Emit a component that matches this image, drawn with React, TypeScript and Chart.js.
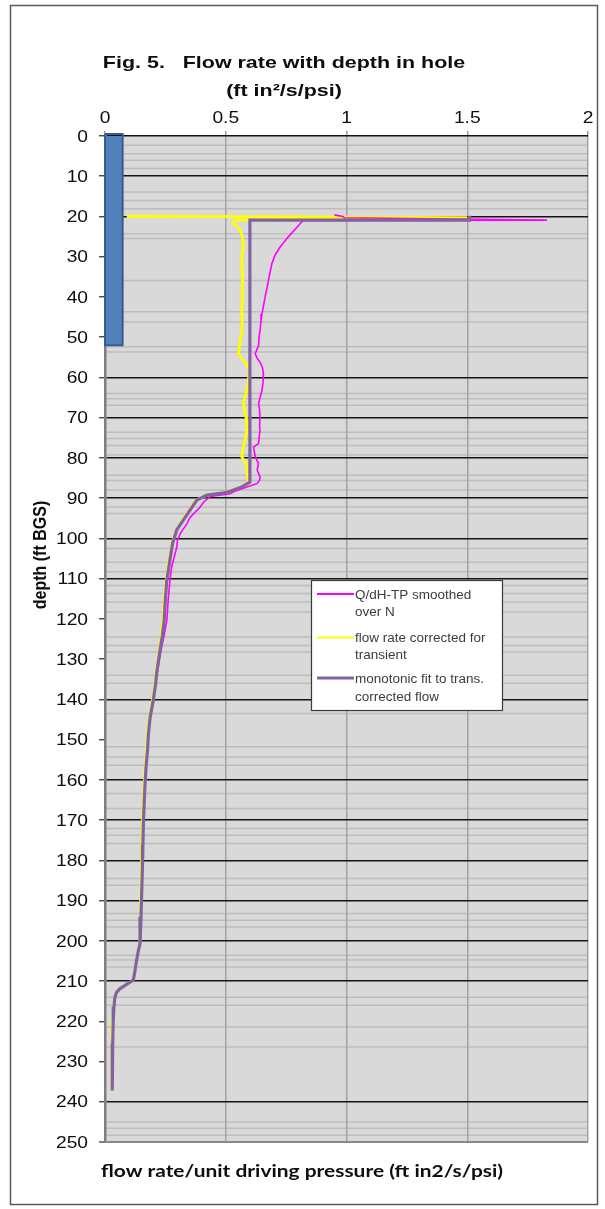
import { useEffect, useRef } from 'react';
import { Chart, registerables } from 'chart.js';

Chart.register(...registerables);

// ---------- data ----------
const flowTicks = [0, 0.5, 1, 1.5, 2];
const flowTickLabels = ['0', '0.5', '1', '1.5', '2'];
const depthTicks = [0, 10, 20, 30, 40, 50, 60, 70, 80, 90, 100, 110, 120, 130, 140, 150, 160, 170, 180, 190, 200, 210, 220, 230, 240, 250];
const depthTickLabels = ['0', '10', '20', '30', '40', '50', '60', '70', '80', '90', '100', '110', '120', '130', '140', '150', '160', '170', '180', '190', '200', '210', '220', '230', '240', '250'];

// depths of the dark horizontal grid lines and of the light ones
const darkGridDepths = [0, 10, 20, 60, 70, 80, 90, 100, 110, 140, 160, 170, 180, 190, 200, 210, 240];
const lightGridDepths = [2.3, 4.4, 6.0, 8.1, 13.9, 16.0, 18.1, 24.3, 25.5, 35.9, 43.7, 46.2, 52.4, 53.7, 64.0, 65.3, 66.9, 73.6, 75.2, 76.9, 79.3, 84.3, 85.6, 88.0, 92.2, 93.8, 102.5, 105.9, 108.3, 111.7, 113.7, 115.8, 118.3, 124.5, 126.6, 128.2, 134.0, 136.0, 143.5, 151.8, 154.3, 156.4, 163.4, 167.1, 172.1, 173.8, 175.8, 184.5, 186.2, 193.2, 194.9, 196.6, 203.6, 204.8, 206.5, 214.0, 216.0, 221.4, 226.4, 245.0, 246.6, 248.3];

// casing (blue bar): flow extent and depth extent
const casingFlow = [0, 0.073, 0.073, 0, 0];
const casingDepth = [-0.5, -0.5, 52, 52, -0.5];

// Q/dH-TP smoothed over N
const magentaFlow = [0.95, 0.985, 0.99, 1.83, 0.82, 0.79, 0.76, 0.725, 0.705, 0.691, 0.683, 0.677, 0.67, 0.663, 0.657, 0.65, 0.646, 0.642, 0.638, 0.636, 0.622, 0.63, 0.642, 0.652, 0.656, 0.655, 0.65, 0.642, 0.636, 0.64, 0.642, 0.64, 0.642, 0.638, 0.636, 0.615, 0.622, 0.636, 0.63, 0.642, 0.64, 0.629, 0.587, 0.532, 0.518, 0.435, 0.408, 0.39, 0.366, 0.35, 0.339, 0.32, 0.311, 0.3, 0.297, 0.285, 0.276, 0.269, 0.262, 0.256, 0.245, 0.235, 0.226, 0.216];
const magentaDepth = [19.6, 20.0, 20.3, 20.9, 21.0, 23, 25, 27.6, 29.5, 31.7, 34, 35.9, 38, 40, 42, 44.2, 46, 48.3, 50, 52, 54.1, 55.2, 56.2, 57.5, 59, 61, 63.2, 65, 66.5, 68, 70, 72, 73.1, 75, 76.4, 77.3, 79.7, 81.4, 83, 84.7, 85.6, 86.4, 87.2, 88.4, 88.9, 89.6, 91, 92.5, 93.9, 95, 96.4, 98, 98.9, 100.5, 102.2, 105, 107.1, 110.4, 115, 120.3, 124, 126.9, 130, 133.5];

// flow rate corrected for transient
const yellowFlow = [0.09, 0.58, 1.5, 0.54, 0.53, 0.545, 0.56, 0.568, 0.573, 0.566, 0.566, 0.57, 0.568, 0.57, 0.566, 0.568, 0.566, 0.557, 0.553, 0.565, 0.58, 0.598, 0.596, 0.594, 0.585, 0.573, 0.578, 0.584, 0.587, 0.58, 0.573, 0.566, 0.584, 0.59, 0.594, 0.565, 0.515, 0.47, 0.41, 0.375, 0.348, 0.32, 0.295, 0.278, 0.266, 0.253, 0.246, 0.24, 0.234, 0.226, 0.219, 0.211, 0.207, 0.197, 0.184, 0.176, 0.172, 0.166, 0.162, 0.158, 0.155, 0.153, 0.151, 0.149, 0.147, 0.144, 0.137, 0.13, 0.123, 0.116, 0.098, 0.078, 0.058, 0.047, 0.04, 0.035, 0.033, 0.03, 0.029, 0.028];
const yellowDepth = [20.0, 20.05, 20.3, 20.9, 21.6, 22.3, 23.4, 25, 27.6, 29.5, 31.7, 34, 37, 40, 43, 46, 48.3, 52, 54.1, 55.2, 56.2, 58.3, 60, 61.6, 63.5, 66.5, 68, 69.9, 73.1, 75.5, 77.3, 79.7, 81.4, 84.7, 86, 87.2, 88.2, 89.0, 89.5, 90.6, 93, 95.5, 98, 101, 105, 110.5, 115, 120, 124, 127, 130, 133.5, 136, 140, 144.5, 148.5, 153, 157, 161, 166, 171, 176, 182, 188, 194, 200.5, 202.5, 205, 207.5, 209.8, 210.5, 211.3, 212, 212.8, 214, 216.5, 220, 225.5, 231, 237];

// monotonic fit to trans. corrected flow
const purpleFlow = [1.51, 1.51, 0.60, 0.60, 0.566, 0.52, 0.49, 0.42, 0.38, 0.352, 0.325, 0.297, 0.28, 0.269, 0.256, 0.25, 0.245, 0.238, 0.23, 0.222, 0.214, 0.21, 0.2, 0.187, 0.18, 0.176, 0.17, 0.166, 0.162, 0.159, 0.157, 0.155, 0.152, 0.149, 0.145, 0.138, 0.131, 0.124, 0.117, 0.1, 0.08, 0.06, 0.048, 0.041, 0.037, 0.034, 0.032, 0.031, 0.029];
const purpleDepth = [19.8, 20.9, 20.9, 86, 87.2, 88.2, 88.7, 89.3, 90.5, 93, 95.4, 97.9, 101.2, 105.3, 110.4, 115, 120.3, 124, 126.9, 130, 133.5, 136, 140.2, 144.4, 148.5, 152.7, 156.8, 160.9, 166, 170.9, 176, 181.7, 188, 194.1, 200.7, 202.5, 204.8, 207.5, 209.8, 210.4, 211.2, 212, 212.8, 214, 216.4, 220, 225.5, 231, 237.2];

const legendItems = [
  { lines: ['Q/dH-TP smoothed', 'over N'], color: '#FF00FF', width: 2 },
  { lines: ['flow rate corrected for', 'transient'], color: '#FFFF00', width: 2 },
  { lines: ['monotonic fit to trans.', 'corrected flow'], color: '#8064A2', width: 3 },
];

const toPoints = (xs: number[], ys: number[]) => xs.map((v, i) => ({ x: v, y: ys[i] }));

function stretchText(ctx: CanvasRenderingContext2D, text: string, x: number, y: number, align: CanvasTextAlign, sx: number) {
  ctx.save();
  ctx.translate(x, y);
  ctx.scale(sx, 1);
  ctx.textAlign = align;
  ctx.fillText(text, 0, 0);
  ctx.restore();
}

const decorPlugin = {
  id: 'decor',
  beforeDraw(chart: any) {
    const { ctx, chartArea: a } = chart;
    const y = chart.scales.y;
    ctx.save();
    ctx.fillStyle = '#ffffff';
    ctx.fillRect(0, 0, chart.width, chart.height);
    ctx.strokeStyle = '#5c5c5c';
    ctx.lineWidth = 1.5;
    ctx.strokeRect(10.5, 5.5, 587, 1199);
    ctx.fillStyle = '#D9D9D9';
    ctx.fillRect(a.left, a.top, a.right - a.left, a.bottom - a.top);
    ctx.strokeStyle = '#BDBDBD';
    ctx.lineWidth = 1.5;
    for (const d of lightGridDepths) {
      const py = y.getPixelForValue(d);
      ctx.beginPath();
      ctx.moveTo(a.left, py);
      ctx.lineTo(a.right, py);
      ctx.stroke();
    }
    ctx.restore();
  },
  afterDraw(chart: any) {
    const { ctx } = chart;
    const x = chart.scales.x;
    const y = chart.scales.y;
    ctx.save();
    // tick labels
    ctx.fillStyle = '#0d0d0d';
    ctx.textBaseline = 'alphabetic';
    ctx.font = '16px "Liberation Sans", Arial, sans-serif';
    flowTicks.forEach((v, i) => stretchText(ctx, flowTickLabels[i], x.getPixelForValue(v), 123, 'center', 1.2));
    depthTicks.forEach((d, i) => stretchText(ctx, depthTickLabels[i], 88, y.getPixelForValue(d) + 5.7, 'right', 1.2));

    // title
    ctx.fillStyle = '#0d0d0d';
    ctx.font = 'bold 16.5px "Liberation Sans", Arial, sans-serif';
    stretchText(ctx, 'Fig. 5.   Flow rate with depth in hole', 284, 68, 'center', 1.3);
    stretchText(ctx, '(ft in²/s/psi)', 284, 96, 'center', 1.3);

    // y title
    ctx.save();
    ctx.translate(46, 555);
    ctx.rotate(-Math.PI / 2);
    ctx.scale(1, 1.2);
    ctx.font = 'bold 16px "Liberation Sans", Arial, sans-serif';
    ctx.textAlign = 'center';
    ctx.fillText('depth (ft BGS)', 0, 0);
    ctx.restore();

    // x title
    ctx.font = 'bold 17px Lato, "Liberation Sans", sans-serif';
    const xt = 'flow rate/unit driving pressure (ft in2/s/psi)';
    const w = ctx.measureText(xt).width;
    stretchText(ctx, xt, 101, 1177, 'left', 402 / w);

    // legend
    const bx = 311, by = 580, bw = 191, bh = 130;
    ctx.fillStyle = '#ffffff';
    ctx.fillRect(bx, by, bw, bh);
    ctx.strokeStyle = '#3a3a3a';
    ctx.lineWidth = 1.2;
    ctx.strokeRect(bx + 0.5, by + 0.5, bw, bh);
    const rows = [594, 637.5, 678];
    const gaps = [17, 16.5, 18];
    ctx.font = '12.5px "Liberation Sans", Arial, sans-serif';
    legendItems.forEach((it, i) => {
      ctx.strokeStyle = it.color;
      ctx.lineWidth = it.width;
      ctx.beginPath();
      ctx.moveTo(317, rows[i]);
      ctx.lineTo(354, rows[i]);
      ctx.stroke();
      ctx.fillStyle = '#3c3c3c';
      it.lines.forEach((t, j) => stretchText(ctx, t, 355, rows[i] + 4.5 + j * gaps[i], 'left', 1.08));
    });
    ctx.restore();
  },
};

export default function App() {
  const ref = useRef<HTMLCanvasElement>(null);
  useEffect(() => {
    if (!ref.current) return;
    const chart = new Chart(ref.current, {
      type: 'scatter',
      data: {
        datasets: [
          {
            label: 'monotonic fit to trans. corrected flow',
            data: toPoints(purpleFlow, purpleDepth),
            showLine: true,
            borderColor: '#8064A2',
            backgroundColor: '#8064A2',
            borderWidth: 3.2,
            pointRadius: 0,
            tension: 0,
            order: 0,
          },
          {
            label: 'Q/dH-TP smoothed over N',
            data: toPoints(magentaFlow, magentaDepth),
            showLine: true,
            borderColor: '#FF00FF',
            backgroundColor: '#FF00FF',
            borderWidth: 1.6,
            pointRadius: 0,
            tension: 0,
            order: 1,
          },
          {
            label: 'flow rate corrected for transient',
            data: toPoints(yellowFlow, yellowDepth),
            showLine: true,
            borderColor: '#FFFF00',
            backgroundColor: '#FFFF00',
            borderWidth: 2.8,
            pointRadius: 0,
            tension: 0,
            order: 2,
          },
          {
            label: 'casing',
            data: toPoints(casingFlow, casingDepth),
            showLine: true,
            fill: 'shape',
            borderColor: '#385D8A',
            backgroundColor: '#4F81BD',
            borderWidth: 2,
            pointRadius: 0,
            tension: 0,
            clip: false,
            order: 3,
          },
        ] as any,
      },
      options: {
        responsive: false,
        animation: false,
        devicePixelRatio: 1,
        layout: { padding: { left: 0, top: 0, right: 17, bottom: 67 } },
        plugins: { legend: { display: false }, tooltip: { enabled: false }, title: { display: false } },
        scales: {
          x: {
            type: 'linear',
            position: 'top',
            min: 0,
            max: 2,
            ticks: { display: false, stepSize: 0.5 },
            grid: {
              color: (c: any) => (c.tick && c.tick.value === 0 ? 'rgba(0,0,0,0)' : '#A3A3A3'),
              lineWidth: 1.5,
              tickColor: '#9a9a9a',
              tickLength: 5,
              drawTicks: true,
            },
            border: { display: false },
            afterFit: (s: any) => { s.height = 136; },
          },
          y: {
            type: 'linear',
            reverse: true,
            min: 0,
            max: 250,
            ticks: { display: false, stepSize: 10 },
            grid: {
              color: (c: any) => {
                const v = c.tick ? c.tick.value : -1;
                if (darkGridDepths.includes(v)) return '#141414';
                if (v === 250) return '#8a8a8a';
                return 'rgba(0,0,0,0)';
              },
              lineWidth: (c: any) => (c.tick && c.tick.value === 250 ? 2 : 1.5),
              tickColor: '#3a3a3a',
              tickWidth: 1.3,
              tickLength: 6,
              drawTicks: true,
            },
            border: { display: true, color: '#7f7f7f', width: 2.5 },
            afterFit: (s: any) => { s.width = 105; },
          },
        },
      } as any,
      plugins: [decorPlugin],
    });
    return () => chart.destroy();
  }, []);
  return (
    <div style={{ position: 'fixed', left: 0, top: 0, width: 605, height: 1209, background: '#fff' }}>
      <canvas ref={ref} width={605} height={1209} style={{ width: 605, height: 1209, display: 'block' }} />
    </div>
  );
}
